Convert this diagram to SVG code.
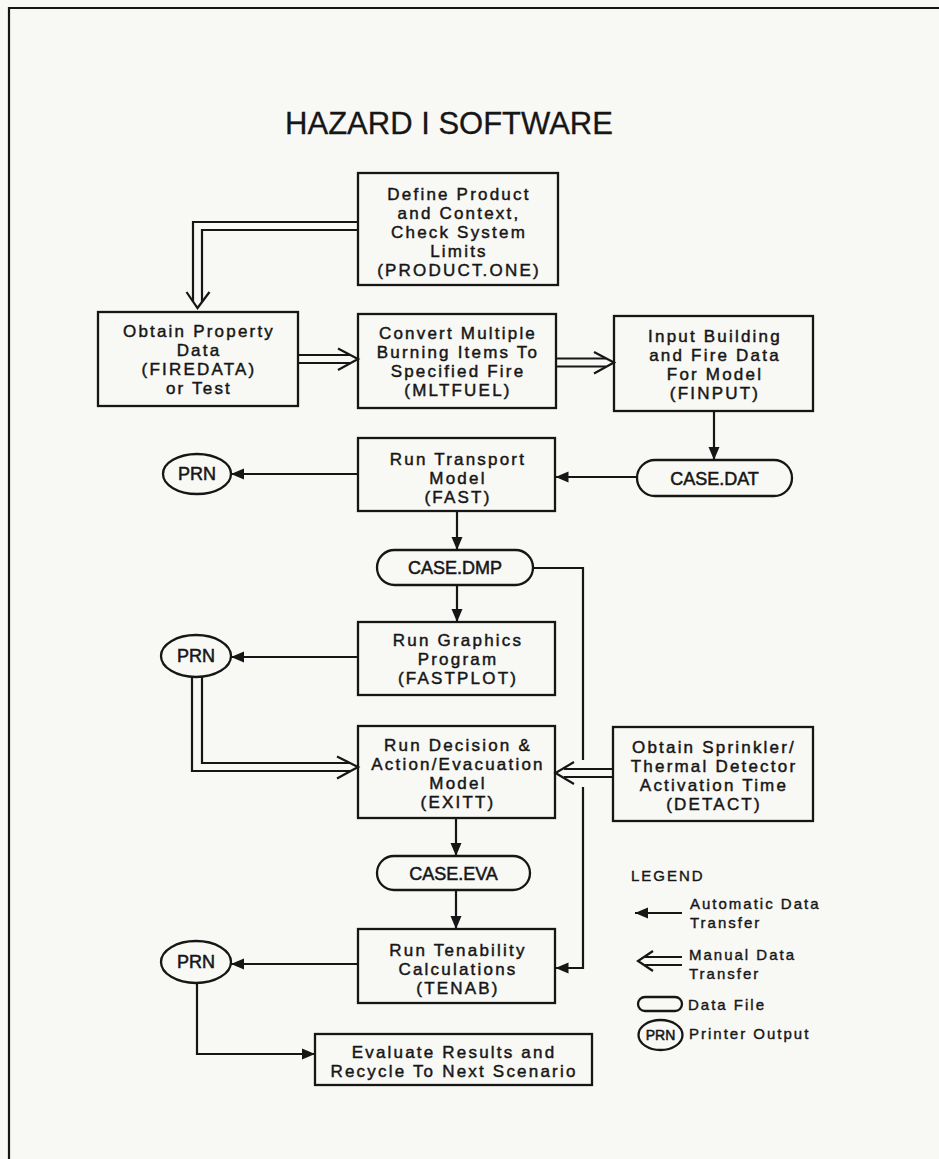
<svg xmlns="http://www.w3.org/2000/svg" width="939" height="1159" viewBox="0 0 939 1159">
<defs>
<style>
.bg{fill:#f8f8f5}
.box{fill:none;stroke:#161616;stroke-width:2.3}
.ln{fill:none;stroke:#161616;stroke-width:2.2}
.ah{fill:none;stroke:#161616;stroke-width:2.2;stroke-linejoin:miter}
.t{font-family:"Liberation Sans",Arial,sans-serif;font-size:17px;letter-spacing:2.2px;fill:#161616;stroke:#161616;stroke-width:0.45;text-anchor:middle}
.f{font-family:"Liberation Sans",Arial,sans-serif;font-size:18px;fill:#161616;stroke:#161616;stroke-width:0.5;text-anchor:middle}
.lg{font-family:"Liberation Sans",Arial,sans-serif;font-size:15px;letter-spacing:2px;fill:#161616;stroke:#161616;stroke-width:0.4}
.title{font-family:"Liberation Sans",Arial,sans-serif;font-size:31px;fill:#161616;stroke:#161616;stroke-width:0.3;text-anchor:middle}
</style>
<marker id="fa" markerUnits="userSpaceOnUse" markerWidth="14" markerHeight="12" refX="13" refY="6" orient="auto">
<path d="M0,0.5 L13,6 L0,11.5 Z" fill="#161616"/>
</marker>
</defs>
<rect class="bg" x="0" y="0" width="939" height="1159"/>
<path d="M9,1159 V8 H939" fill="none" stroke="#161616" stroke-width="2.2"/>
<text class="title" x="449" y="134">HAZARD I SOFTWARE</text>

<g id="product">
<rect class="box" x="358" y="173" width="200" height="112"/>
<text class="t" x="459" y="200">Define Product</text>
<text class="t" x="459" y="219">and Context,</text>
<text class="t" x="459" y="238">Check System</text>
<text class="t" x="459" y="257">Limits</text>
<text class="t" x="459" y="276">(PRODUCT.ONE)</text>
</g>
<g id="firedata">
<rect class="box" x="98" y="312" width="200" height="94"/>
<text class="t" x="199" y="337">Obtain Property</text>
<text class="t" x="199" y="356">Data</text>
<text class="t" x="199" y="375">(FIREDATA)</text>
<text class="t" x="199" y="394">or Test</text>
</g>
<g id="mltfuel">
<rect class="box" x="358" y="314" width="198" height="94"/>
<text class="t" x="458" y="339">Convert Multiple</text>
<text class="t" x="458" y="358">Burning Items To</text>
<text class="t" x="458" y="377">Specified Fire</text>
<text class="t" x="458" y="396">(MLTFUEL)</text>
</g>
<g id="finput">
<rect class="box" x="614" y="316" width="199" height="95"/>
<text class="t" x="715" y="342">Input Building</text>
<text class="t" x="715" y="361">and Fire Data</text>
<text class="t" x="715" y="380">For Model</text>
<text class="t" x="715" y="399">(FINPUT)</text>
</g>
<g id="casedat">
<rect class="box" x="637" y="460" width="155" height="36" rx="18"/>
<text class="f" x="714.5" y="485">CASE.DAT</text>
</g>
<g id="fast">
<rect class="box" x="358" y="438" width="197" height="73"/>
<text class="t" x="458" y="465">Run Transport</text>
<text class="t" x="458" y="484">Model</text>
<text class="t" x="458" y="503">(FAST)</text>
</g>
<g id="prn1">
<ellipse class="box" cx="197" cy="474" rx="34" ry="20"/>
<text class="f" x="197" y="480">PRN</text>
</g>
<g id="casedmp">
<rect class="box" x="377" y="550" width="156" height="35" rx="17.5"/>
<text class="f" x="455" y="574">CASE.DMP</text>
</g>
<g id="fastplot">
<rect class="box" x="358" y="622" width="197" height="73"/>
<text class="t" x="458" y="646">Run Graphics</text>
<text class="t" x="458" y="665">Program</text>
<text class="t" x="458" y="684">(FASTPLOT)</text>
</g>
<g id="prn2">
<ellipse class="box" cx="196" cy="656" rx="35" ry="21"/>
<text class="f" x="196" y="662">PRN</text>
</g>
<g id="exitt">
<rect class="box" x="358" y="726" width="197" height="92"/>
<text class="t" x="458" y="751">Run Decision &amp;</text>
<text class="t" x="458" y="770">Action/Evacuation</text>
<text class="t" x="458" y="789">Model</text>
<text class="t" x="458" y="808">(EXITT)</text>
</g>
<g id="detact">
<rect class="box" x="613" y="727" width="200" height="94"/>
<text class="t" x="714" y="753">Obtain Sprinkler/</text>
<text class="t" x="714" y="772">Thermal Detector</text>
<text class="t" x="714" y="791">Activation Time</text>
<text class="t" x="714" y="810">(DETACT)</text>
</g>
<g id="caseeva">
<rect class="box" x="377" y="856" width="153" height="34" rx="17"/>
<text class="f" x="453.5" y="880">CASE.EVA</text>
</g>
<g id="tenab">
<rect class="box" x="358" y="929" width="197" height="74"/>
<text class="t" x="458" y="956">Run Tenability</text>
<text class="t" x="458" y="975">Calculations</text>
<text class="t" x="458" y="994">(TENAB)</text>
</g>
<g id="prn3">
<ellipse class="box" cx="196" cy="962" rx="35" ry="21"/>
<text class="f" x="196" y="968">PRN</text>
</g>
<g id="evaluate">
<rect class="box" x="315" y="1034" width="277" height="51"/>
<text class="t" x="454" y="1058">Evaluate Results and</text>
<text class="t" x="454" y="1077">Recycle To Next Scenario</text>
</g>

<g id="connectors">
<!-- product -> firedata (manual) -->
<path class="ln" d="M358,222 H193 V302"/>
<path class="ln" d="M358,230 H202 V302"/>
<path class="ah" d="M186.5,292 L197.5,308 L209.5,292"/>
<!-- firedata -> mltfuel (manual) -->
<path class="ln" d="M298,355 H350"/>
<path class="ln" d="M298,363 H350"/>
<path class="ah" d="M338,348.5 L358,359 L338,370"/>
<!-- mltfuel -> finput (manual) -->
<path class="ln" d="M556,358.5 H606"/>
<path class="ln" d="M556,366.5 H606"/>
<path class="ah" d="M594,352 L614,362.5 L594,373.5"/>
<!-- finput -> casedat -->
<path class="ln" d="M714,411 V460" marker-end="url(#fa)"/>
<!-- casedat -> fast -->
<path class="ln" d="M637,477 H555.5" marker-end="url(#fa)"/>
<!-- fast -> prn1 -->
<path class="ln" d="M358,474 H231" marker-end="url(#fa)"/>
<!-- fast -> casedmp -->
<path class="ln" d="M457,511 V550" marker-end="url(#fa)"/>
<!-- casedmp -> fastplot -->
<path class="ln" d="M457,585 V622" marker-end="url(#fa)"/>
<!-- fastplot -> prn2 -->
<path class="ln" d="M358,657 H231" marker-end="url(#fa)"/>
<!-- casedmp -> tenab -->
<path class="ln" d="M533,568 H583 V760"/>
<path class="ln" d="M583,787 V968 H555.5" marker-end="url(#fa)"/>
<!-- prn2 -> exitt (manual) -->
<path class="ln" d="M192,677 V771 H350"/>
<path class="ln" d="M202,677 V763 H350"/>
<path class="ah" d="M337,756.5 L358,767 L337,778.5"/>
<!-- detact -> exitt (manual) -->
<path class="ln" d="M613,769 H564"/>
<path class="ln" d="M613,777 H564"/>
<path class="ah" d="M574,762 L555.5,773 L574,784"/>
<!-- exitt -> caseeva -->
<path class="ln" d="M456,818 V856" marker-end="url(#fa)"/>
<!-- caseeva -> tenab -->
<path class="ln" d="M456,890 V929" marker-end="url(#fa)"/>
<!-- tenab -> prn3 -->
<path class="ln" d="M358,964 H231" marker-end="url(#fa)"/>
<!-- prn3 -> evaluate -->
<path class="ln" d="M197,983 V1054 H315" marker-end="url(#fa)"/>
</g>

<g id="legend">
<text class="lg" x="631" y="881">LEGEND</text>
<path class="ln" d="M682,913 H635" marker-end="url(#fa)"/>
<text class="lg" x="690" y="909">Automatic Data</text>
<text class="lg" x="690" y="928">Transfer</text>
<path class="ln" d="M682,957 H645"/>
<path class="ln" d="M682,965 H645"/>
<path class="ah" d="M653,951 L638,961 L653,971"/>
<text class="lg" x="689" y="960">Manual Data</text>
<text class="lg" x="689" y="979">Transfer</text>
<rect class="box" x="638" y="997" width="44" height="14" rx="7"/>
<text class="lg" x="688" y="1010">Data File</text>
<ellipse class="box" cx="660.5" cy="1035" rx="22" ry="15"/>
<text class="f" x="660.5" y="1040" style="font-size:14px">PRN</text>
<text class="lg" x="689" y="1039">Printer Output</text>
</g>
</svg>
